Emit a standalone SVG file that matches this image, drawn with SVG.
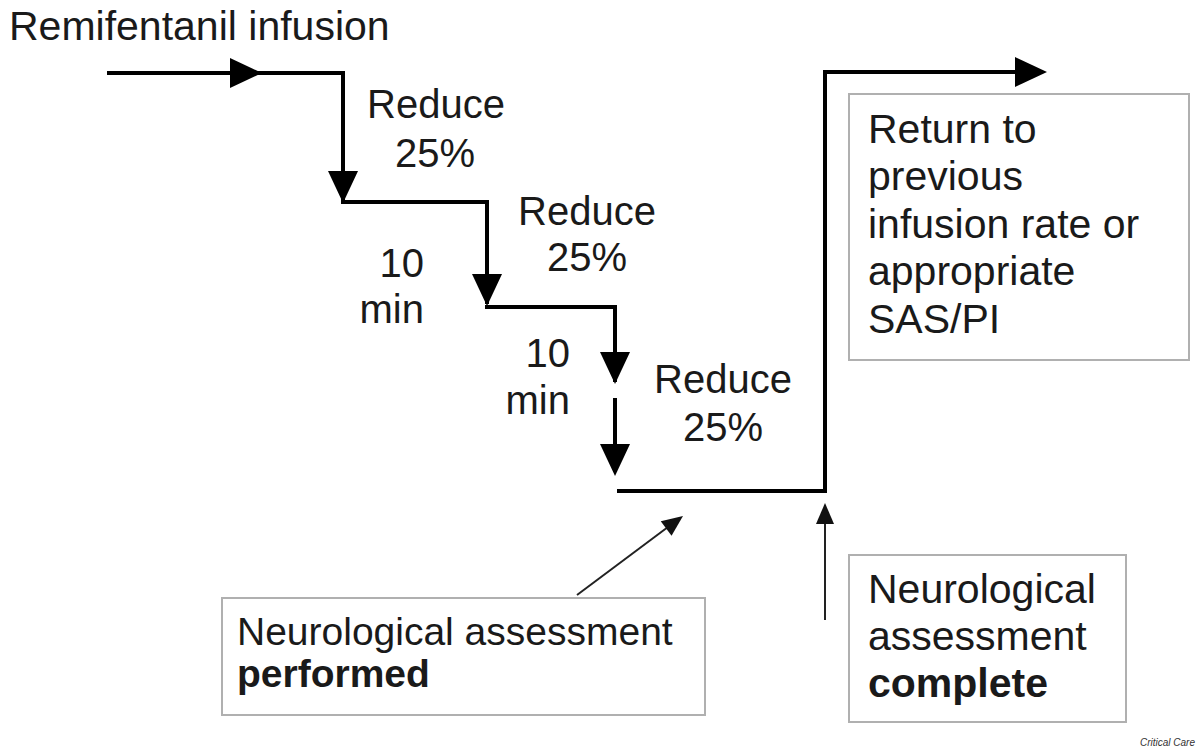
<svg xmlns="http://www.w3.org/2000/svg" width="1200" height="750" viewBox="0 0 1200 750">
<style>
.t{font-family:"Liberation Sans",Arial,sans-serif;font-size:40px;fill:#1a1a1a}
.c{text-anchor:middle}
.r{text-anchor:end}
.b{font-weight:bold}
.s39{font-size:39px}
.s41{font-size:41px}
.box{fill:#fff;stroke:#b0b0b0;stroke-width:2}
.main{fill:none;stroke:#000;stroke-width:4;stroke-linejoin:miter;stroke-linecap:butt}
.thin{fill:none;stroke:#222;stroke-width:2}
</style>
<defs>
<path id="ah" d="M0,0 L-32,-15 L-32,15 Z" fill="#000"/>
<path id="ahs" d="M0,0 L-21,-9 L-21,9 Z" fill="#111"/>
</defs>
<rect width="1200" height="750" fill="#fff"/>
<g id="connectors">
<path class="main" d="M107,73 H343 V200 M341,202 H487 V304 M485,307 H615 V382"/>
<path class="main" d="M615,398 V472"/>
<path class="main" d="M617,491 H825 V72 H1040"/>
<use href="#ah" transform="translate(262,73)"/>
<use href="#ah" transform="translate(343,203) rotate(90)"/>
<use href="#ah" transform="translate(487,306) rotate(90)"/>
<use href="#ah" transform="translate(615,384) rotate(90)"/>
<use href="#ah" transform="translate(615,476) rotate(90)"/>
<use href="#ah" transform="translate(1047,72)"/>
<line class="thin" x1="577" y1="595" x2="672" y2="524"/>
<use href="#ahs" transform="translate(683,516) rotate(-36.7)"/>
<line class="thin" x1="825" y1="620" x2="825" y2="515"/>
<use href="#ahs" transform="translate(825,503) rotate(-90)"/>
</g>
<g id="title"><text class="t s41" x="9" y="40">Remifentanil infusion</text></g>
<g id="reduce1"><text class="t c" x="436" y="118">Reduce</text><text class="t c" x="435" y="167">25%</text></g>
<g id="reduce2"><text class="t c" x="587" y="225">Reduce</text><text class="t c" x="587" y="271">25%</text></g>
<g id="reduce3"><text class="t c" x="723" y="393">Reduce</text><text class="t c" x="723" y="441">25%</text></g>
<g id="min1"><text class="t r" x="424" y="277">10</text><text class="t r" x="424" y="323">min</text></g>
<g id="min2"><text class="t r" x="570" y="367">10</text><text class="t r" x="570" y="414">min</text></g>
<g id="return-box">
<rect class="box" x="849" y="94" width="340" height="266"/>
<text class="t s41" x="868" y="143">Return to</text>
<text class="t s41" x="868" y="190">previous</text>
<text class="t s41" x="868" y="238">infusion rate or</text>
<text class="t s41" x="868" y="285">appropriate</text>
<text class="t s41" x="868" y="333">SAS/PI</text>
</g>
<g id="performed-box">
<rect class="box" x="222" y="598" width="483" height="117"/>
<text class="t s39" x="237" y="645">Neurological assessment</text>
<text class="t s39 b" x="237" y="687">performed</text>
</g>
<g id="complete-box">
<rect class="box" x="849" y="555" width="277" height="167"/>
<text class="t s41" x="868" y="603">Neurological</text>
<text class="t s41" x="868" y="650">assessment</text>
<text class="t s41 b" x="868" y="697">complete</text>
</g>
<text x="1140" y="746" style="font-family:'Liberation Sans',Arial,sans-serif;font-size:10px;font-style:italic;fill:#333">Critical Care</text>
</svg>
